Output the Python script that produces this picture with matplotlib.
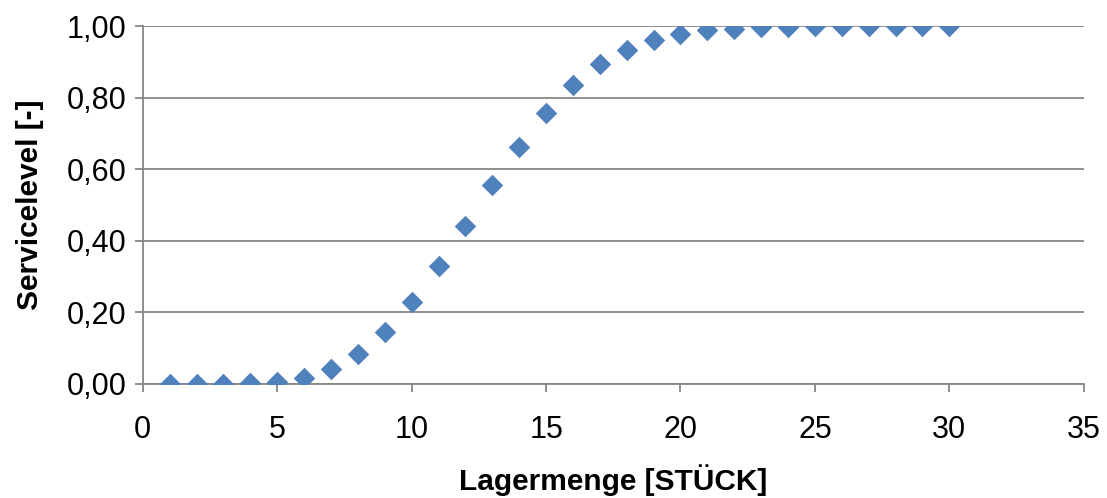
import matplotlib
matplotlib.use("Agg")
import matplotlib.pyplot as plt
from matplotlib.ticker import FuncFormatter, MultipleLocator

lagermenge = list(range(1, 31))
servicelevel = [0.000, 0.000, 0.001, 0.003, 0.006, 0.017, 0.042, 0.084, 0.146, 0.230,
                0.330, 0.443, 0.557, 0.664, 0.759, 0.835, 0.894, 0.933, 0.961, 0.978,
                0.989, 0.994, 0.997, 0.999, 1.000, 1.000, 1.000, 1.000, 1.000, 1.000]
x_label = "Lagermenge [STÜCK]"
y_label = "Servicelevel [-]"

plt.rcParams['font.family'] = ['Liberation Sans', 'DejaVu Sans']

fig = plt.figure(figsize=(11.07, 4.98), dpi=100)
ax = fig.add_axes([0.129, 0.229, 0.850, 0.718])

grid_c = '#868686'
ax.scatter(lagermenge, servicelevel, marker='D', s=120, color='#4F81BD', zorder=3, linewidths=0)

ax.set_xlim(0, 35)
ax.set_ylim(0, 1.0)
ax.xaxis.set_major_locator(MultipleLocator(5))
ax.yaxis.set_major_locator(MultipleLocator(0.2))
ax.yaxis.set_major_formatter(FuncFormatter(lambda v, p: f"{v:.2f}".replace('.', ',')))
ax.grid(axis='y', color=grid_c, linewidth=1.3)
ax.set_axisbelow(True)
for s in ['top', 'right']:
    ax.spines[s].set_visible(False)
for s in ['left', 'bottom']:
    ax.spines[s].set_color(grid_c)
    ax.spines[s].set_linewidth(1.3)
ax.tick_params(axis='both', colors=grid_c, labelcolor='black', labelsize=22, length=6, width=1.3)
ax.tick_params(axis='x', pad=16)
ax.tick_params(axis='y', pad=6)
ax.set_xlabel(x_label, fontsize=21.5, fontweight='bold', labelpad=14)
ax.set_ylabel(y_label, fontsize=21.5, fontweight='bold', labelpad=16)

fig.savefig("out.png", dpi=100)
